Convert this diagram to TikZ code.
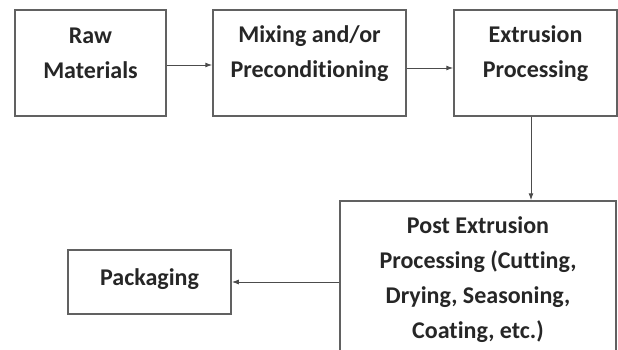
\documentclass[tikz,border=0pt]{standalone}
\usepackage{fontspec}
\setmainfont{Carlito}[RawFeature={-liga;-clig;-dlig}]
\usetikzlibrary{arrows.meta}
\begin{document}
\begin{tikzpicture}[x=1pt,y=1pt,
  box/.style={draw=black!62,line width=1.5pt,rectangle,inner sep=0pt},
  lbl/.style={align=center,font=\fontsize{24}{35}\selectfont\bfseries,text=black!85},
  arr/.style={draw=black!70,line width=1pt,-{Latex[length=7pt,width=5pt]}}]
\clip (0,0) rectangle (618,349);
\useasboundingbox (0,0) rectangle (618,349);
\fill[white] (0,0) rectangle (618,349);
\node[box,minimum width=151pt,minimum height=106pt] (b1) at (90.5,286) {};
\node[box,minimum width=193pt,minimum height=106pt] (b2) at (309.5,286) {};
\node[box,minimum width=163pt,minimum height=106pt] (b3) at (535.5,286) {};
\node[box,minimum width=276pt,minimum height=170pt] (b4) at (478,63) {};
\node[box,minimum width=163pt,minimum height=64pt] (pk) at (149.5,67) {};
\node[lbl] (t1) at (90.5,296) {Raw\\Materials};
\node[lbl] (t2) at (309.5,295) {Mixing and/or\\Preconditioning};
\node[lbl] (t3) at (535.5,295) {Extrusion\\Processing};
\node[lbl] (t4) at (478,69) {Post Extrusion\\Processing (Cutting,\\Drying, Seasoning,\\Coating, etc.)};
\node[lbl] (t5) at (149.5,70) {Packaging};
\draw[arr] ([yshift=-2pt]b1.east) -- ([yshift=-2pt]b1.east -| b2.west);
\draw[arr] ([yshift=-5pt]b2.east) -- ([yshift=-5pt]b2.east -| b3.west);
\draw[arr] ([xshift=-4.5pt]b3.south) -- ([xshift=-4.5pt]b3.south |- b4.north);
\draw[arr] (pk.east -| b4.west) -- (pk.east);
\end{tikzpicture}
\end{document}
